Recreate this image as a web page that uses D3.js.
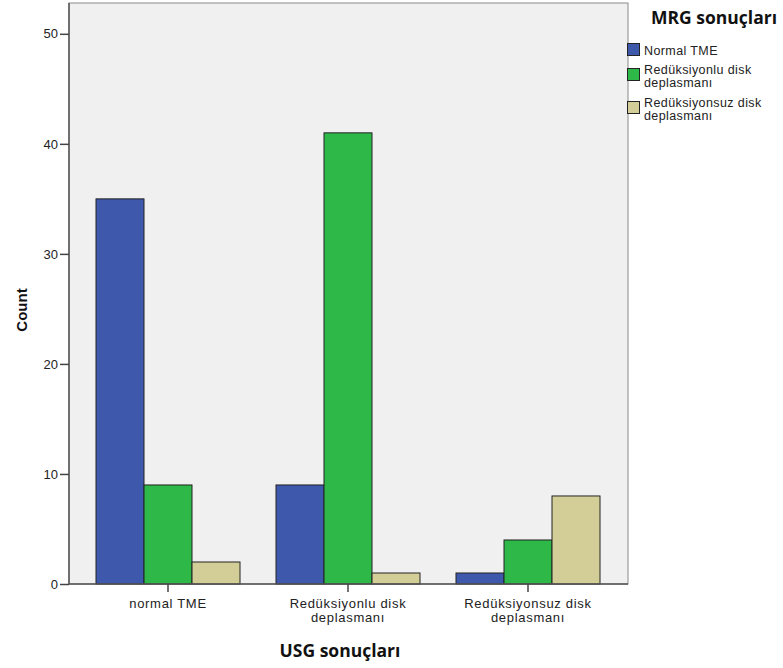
<!DOCTYPE html>
<html><head><meta charset="utf-8">
<script src="https://cdn.jsdelivr.net/npm/d3@7"></script>
<style>body{margin:0;background:#fff}</style>
</head><body><svg id="c" width="783" height="668"></svg>
<script>
const categories = [["normal TME"], ["Redüksiyonlu disk", "deplasmanı"], ["Redüksiyonsuz disk", "deplasmanı"]];
const categoryKeys = ["normal TME", "Redüksiyonlu disk deplasmanı", "Redüksiyonsuz disk deplasmanı"];
const seriesNames = ["Normal TME", "Redüksiyonlu disk deplasmanı", "Redüksiyonsuz disk deplasmanı"];
const seriesLegend = [["Normal TME"], ["Redüksiyonlu disk", "deplasmanı"], ["Redüksiyonsuz disk", "deplasmanı"]];
const normalTME = [35, 9, 1];
const reduksiyonlu = [9, 41, 4];
const reduksiyonsuz = [2, 1, 8];
const yTicks = [0, 10, 20, 30, 40, 50];
const colors = ["#3e58ac", "#2eb848", "#d3ce97"];
const seriesValues = [normalTME, reduksiyonlu, reduksiyonsuz];

const FONT = "'Liberation Sans', Arial, sans-serif";
const svg = d3.select("#c");
const pL = 69, pR = 628, pT = 3, pB = 584;
const x = d3.scaleBand().domain(categoryKeys).range([78, 618]).paddingInner(0.2).paddingOuter(0.1);
const xs = d3.scaleBand().domain(seriesNames).range([0, x.bandwidth()]);
const y = d3.scaleLinear().domain([0, 52.8]).range([pB, pT]);

svg.append("rect").attr("x", pL).attr("y", pT).attr("width", pR - pL).attr("height", pB - pT)
  .attr("fill", "#f0f0f0").attr("stroke", "#8a8a8a").attr("stroke-width", 1);

const g = svg.append("g");
seriesNames.forEach((s, si) => {
  g.selectAll(null).data(categoryKeys).enter().append("rect")
    .attr("x", (c) => x(c) + xs(s))
    .attr("y", (c, i) => y(seriesValues[si][i]))
    .attr("width", xs.bandwidth())
    .attr("height", (c, i) => pB - y(seriesValues[si][i]))
    .attr("fill", colors[si]).attr("stroke", "#222").attr("stroke-width", 1);
});

svg.append("line").attr("x1", pL).attr("x2", pL).attr("y1", pT).attr("y2", pB).attr("stroke", "#555").attr("stroke-width", 1.5);
svg.append("line").attr("x1", pL).attr("x2", pR).attr("y1", pB).attr("y2", pB).attr("stroke", "#555").attr("stroke-width", 1.5);

const yAxis = d3.axisLeft(y).tickValues(yTicks).tickSize(9).tickPadding(2);
const ya = svg.append("g").attr("transform", `translate(${pL},0)`).call(yAxis);
ya.select(".domain").remove();
ya.selectAll(".tick line").attr("stroke", "#444").attr("stroke-width", 1.5);
ya.selectAll(".tick text").attr("font-family", FONT).attr("font-size", 13).attr("fill", "#222");

const xAxis = d3.axisBottom(x).tickSize(8).tickFormat("");
const xa = svg.append("g").attr("transform", `translate(0,${pB})`).call(xAxis);
xa.select(".domain").remove();
xa.selectAll(".tick line").attr("stroke", "#444").attr("stroke-width", 1.5);
categoryKeys.forEach((c, i) => {
  const cx = x(c) + x.bandwidth() / 2;
  const t = svg.append("text").attr("x", cx).attr("y", 608)
    .attr("text-anchor", "middle").attr("font-family", FONT).attr("font-size", 13)
    .attr("letter-spacing", 0.7).attr("fill", "#222");
  categories[i].forEach((ln, j) => t.append("tspan").attr("x", cx).attr("dy", j ? 13.5 : 0).text(ln));
});

svg.append("text").attr("transform", "translate(27,310) rotate(-90)").attr("text-anchor", "middle")
  .attr("font-family", FONT).attr("font-weight", "bold").attr("font-size", 15).attr("fill", "#111").text("Count");
svg.append("text").attr("x", 340).attr("y", 657).attr("text-anchor", "middle")
  .attr("font-family", "'Open Sans', sans-serif").attr("font-weight", "bold").attr("font-size", 17.5).attr("fill", "#111").text("USG sonuçları");

svg.append("text").attr("x", 651).attr("y", 24).attr("font-family", "'Open Sans', sans-serif").attr("font-weight", "bold")
  .attr("font-size", 17.5).attr("fill", "#111").text("MRG sonuçları");
const legY = [43, 68, 101];
seriesNames.forEach((s, i) => {
  svg.append("rect").attr("x", 627.5).attr("y", legY[i] + 0.5).attr("width", 12).attr("height", 12)
    .attr("fill", colors[i]).attr("stroke", "#222").attr("stroke-width", 1);
  const t = svg.append("text").attr("x", 644).attr("y", legY[i] + (seriesLegend[i].length > 1 ? 6 : 12))
    .attr("font-family", FONT).attr("font-size", 12.5).attr("letter-spacing", 0.4).attr("fill", "#222");
  seriesLegend[i].forEach((ln, j) => t.append("tspan").attr("x", 644).attr("dy", j ? 13 : 0).text(ln));
});
</script></body></html>
